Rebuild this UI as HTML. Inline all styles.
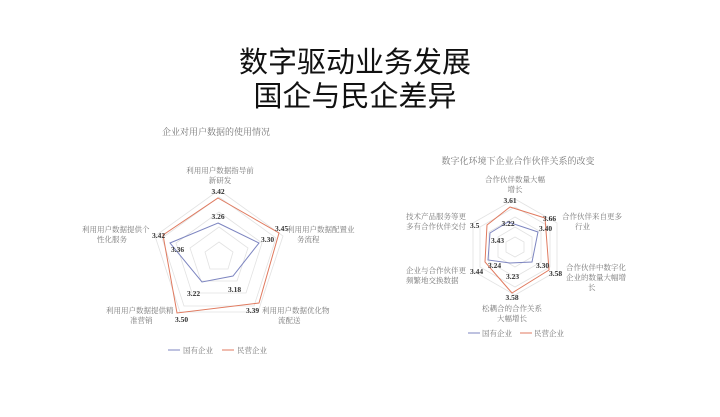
<!DOCTYPE html>
<html><head><meta charset="utf-8"><style>
html,body{margin:0;padding:0;background:#fff;width:720px;height:417px;overflow:hidden}
svg{display:block}
text{font-family:"Liberation Serif","Noto Serif CJK SC",serif}
.t{font-family:"Liberation Sans","Noto Sans CJK SC",sans-serif;font-size:29px;fill:#111}
.l{font-size:7.5px;fill:#777}
.v{font-size:7.5px;fill:#333;font-weight:bold}
.h{font-size:9px;fill:#777}
</style></head><body>
<svg width="720" height="417" viewBox="0 0 720 417">
<text class="t" x="355" y="72" text-anchor="middle">数字驱动业务发展</text>
<text class="t" x="355" y="106" text-anchor="middle">国企与民企差异</text>

<!-- left chart -->
<text class="h" x="216" y="135" text-anchor="middle">企业对用户数据的使用情况</text>
<g fill="none" stroke="#e2e2e2" stroke-width="0.8">
<polygon points="219,242 233,252 228,269 210,269 205,252"/>
<polygon points="219,227 248,248 237,281 201,281 190,248"/>
<polygon points="219,212 262,243 246,293 192,293 176,243"/>
<polygon points="219,197 276,238 254,306 184,306 162,238"/>
<polygon points="219,190 283,236 258,312 180,312 155,236"/>
</g>
<polygon points="218,198 279,233 259,303 177,313 163,235" fill="none" stroke="#e07a5f" stroke-width="1"/>
<polygon points="218,223 259,243 233,276 202,282 170,243" fill="none" stroke="#7d85c0" stroke-width="1"/>
<text class="l" x="220" y="173" text-anchor="middle">利用用户数据指导前</text>
<text class="l" x="220" y="183" text-anchor="middle">新研发</text>
<text class="v" x="218" y="194" text-anchor="middle">3.42</text>
<text class="v" x="218" y="219" text-anchor="middle">3.26</text>
<text class="l" x="287" y="232">利用用户数据配置业</text>
<text class="l" x="297" y="242">务流程</text>
<text class="v" x="275" y="231">3.45</text>
<text class="v" x="261" y="242">3.30</text>
<text class="l" x="82" y="232">利用用户数据提供个</text>
<text class="l" x="97" y="242">性化服务</text>
<text class="v" x="152" y="238">3.42</text>
<text class="v" x="171" y="252">3.36</text>
<text class="v" x="228" y="292">3.18</text>
<text class="v" x="187" y="296">3.22</text>
<text class="l" x="106" y="313">利用用户数据提供精</text>
<text class="l" x="130" y="323">准营销</text>
<text class="v" x="175" y="322">3.50</text>
<text class="v" x="246" y="313">3.39</text>
<text class="l" x="262" y="313">利用用户数据优化物</text>
<text class="l" x="278" y="323">流配送</text>
<line x1="168" y1="350" x2="180" y2="350" stroke="#7d85c0"/>
<text class="l" x="183" y="353">国有企业</text>
<line x1="222" y1="350" x2="234" y2="350" stroke="#e07a5f"/>
<text class="l" x="237" y="353">民营企业</text>

<!-- right chart -->
<text class="h" x="518" y="164" text-anchor="middle">数字化环境下企业合作伙伴关系的改变</text>
<g fill="none" stroke="#e2e2e2" stroke-width="0.8">
<polygon points="515,237 524,242 524,252 515,257 506,252 506,242"/>
<polygon points="515,227 532,237 532,257 515,267 498,257 498,237"/>
<polygon points="515,217 541,232 541,262 515,277 489,262 489,232"/>
<polygon points="515,207 550,227 550,267 515,287 480,267 480,227"/>
<polygon points="515,199 557,223 557,271 515,295 473,271 473,223"/>
</g>
<polygon points="510,207 545,218 549,270 512,293 485,262 487,225" fill="none" stroke="#e07a5f" stroke-width="1"/>
<polygon points="508,222 538,232 532,262 510,263 488,260 490,233" fill="none" stroke="#7d85c0" stroke-width="1"/>
<text class="l" x="515" y="182" text-anchor="middle">合作伙伴数量大幅</text>
<text class="l" x="515" y="192" text-anchor="middle">增长</text>
<text class="v" x="510" y="203" text-anchor="middle">3.61</text>
<text class="v" x="508" y="226" text-anchor="middle">3.22</text>
<text class="l" x="562" y="219">合作伙伴来自更多</text>
<text class="l" x="575" y="229">行业</text>
<text class="v" x="543" y="221">3.66</text>
<text class="v" x="539" y="231">3.40</text>
<text class="l" x="406" y="219">技术产品服务等更</text>
<text class="l" x="406" y="229">多有合作伙伴交付</text>
<text class="v" x="470" y="228">3.5</text>
<text class="v" x="491" y="243">3.43</text>
<text class="l" x="566" y="270">合作伙伴中数字化</text>
<text class="l" x="566" y="280">企业的数量大幅增</text>
<text class="l" x="588" y="290">长</text>
<text class="v" x="536" y="268">3.30</text>
<text class="v" x="549" y="276">3.58</text>
<text class="l" x="406" y="273">企业与合作伙伴更</text>
<text class="l" x="406" y="283">频繁地交换数据</text>
<text class="v" x="470" y="274">3.44</text>
<text class="v" x="488" y="268">3.24</text>
<text class="v" x="506" y="279">3.23</text>
<text class="v" x="512" y="300" text-anchor="middle">3.58</text>
<text class="l" x="512" y="311" text-anchor="middle">松耦合的合作关系</text>
<text class="l" x="512" y="321" text-anchor="middle">大幅增长</text>
<line x1="468" y1="333" x2="480" y2="333" stroke="#7d85c0"/>
<text class="l" x="482" y="336">国有企业</text>
<line x1="520" y1="333" x2="532" y2="333" stroke="#e07a5f"/>
<text class="l" x="534" y="336">民营企业</text>
</svg>
</body></html>
